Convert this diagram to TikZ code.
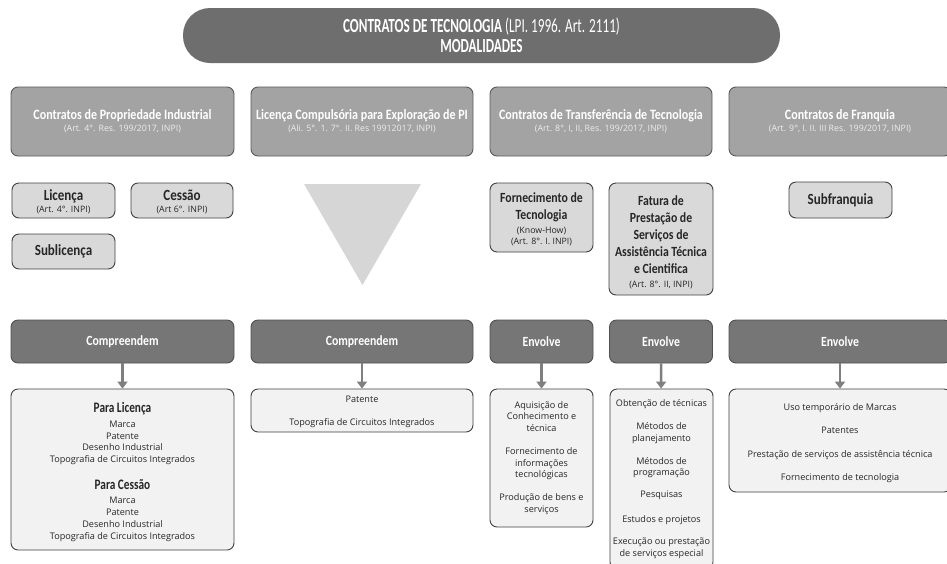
\documentclass[tikz,border=0pt]{standalone}
\usepackage{fontspec}
\setmainfont{Open Sans}
\newfontfamily\condf[FakeStretch=0.84]{Carlito}
\newfontfamily\paraf[FakeStretch=0.78]{Carlito}
\newfontfamily\titlef[FakeStretch=0.66]{Carlito}
\newfontfamily\smallf{Open Sans}
\usetikzlibrary{arrows.meta}
\newcommand{\tightls}{\lineskiplimit=-30pt\relax}
\definecolor{titlefill}{HTML}{6E6E6E}
\definecolor{hdrfill}{HTML}{A3A3A3}
\definecolor{hdredge}{HTML}{5A5A5A}
\definecolor{smallfill}{HTML}{D9D9D9}
\definecolor{edge}{HTML}{404040}
\definecolor{darkfill}{HTML}{767676}
\definecolor{darkedge}{HTML}{505050}
\definecolor{lightfill}{HTML}{F2F2F2}
\definecolor{arrowgray}{HTML}{7F7F7F}
\definecolor{trifill}{HTML}{D6D6D6}
\definecolor{textdark}{HTML}{262626}
\definecolor{subtxt}{HTML}{EDEDED}
\tikzset{
  base/.style={rounded corners=7pt, inner sep=0pt, align=center, line width=0.9pt},
  titlebox/.style={base, rounded corners=27pt, fill=titlefill, draw=none, text=white,
    font=\titlef\bfseries\fontsize{20}{20}\selectfont\tightls},
  hdrbox/.style={base, fill=hdrfill, draw=hdredge, text=white,
    font=\fontsize{8}{12}\selectfont\tightls},
  smallbox/.style={base, fill=smallfill, draw=edge, text=textdark,
    font=\fontsize{8}{12}\selectfont\tightls},
  tallbox/.style={base, fill=smallfill, draw=edge, text=textdark,
    font=\fontsize{8}{17}\selectfont\tightls},
  darkbox/.style={base, fill=darkfill, draw=darkedge, text=white,
    font=\condf\bfseries\fontsize{14}{16}\selectfont},
  lightbox/.style={base, fill=lightfill, draw=edge, text=textdark,
    font=\fontsize{9.1}{11.7}\selectfont\tightls},
  link/.style={draw=arrowgray, line width=2.4pt, -{Triangle[length=7pt,width=10pt]}},
}
\newcommand{\hd}[1]{{\condf\bfseries\fontsize{14.3}{14}\selectfont #1}}
\newcommand{\sbt}[1]{{\smallf\fontsize{8.8}{9}\selectfont #1}}
\newcommand{\sh}[1]{{\condf\bfseries\fontsize{15.5}{14}\selectfont #1}}
\newcommand{\bh}[1]{{\condf\bfseries\fontsize{14}{17}\selectfont #1}}
\newcommand{\ph}[1]{{\paraf\bfseries\fontsize{14.5}{14}\selectfont #1}}
\begin{document}
\begin{tikzpicture}[x=1pt,y=-1pt]
\clip (0,0) rectangle (947,563);
\fill[white] (0,0) rectangle (947,563);
% title
\node[titlebox, minimum width=597, minimum height=55] (title) at (481.5,35.5)
  {CONTRATOS DE TECNOLOGIA {\mdseries (LPI. 1996. Art. 2111)}\\MODALIDADES};
% header row
\node[hdrbox, minimum width=223, minimum height=69] (h1) at (122.5,121.5)
  {\hd{Contratos de Propriedade Industrial}\\\color{subtxt}\sbt{(Art. 4°. Res. 199/2017, INPI)}};
\node[hdrbox, minimum width=222, minimum height=69] (h2) at (362,121.5)
  {\hd{Licença Compulsória para Exploração de PI}\\\color{subtxt}\sbt{(Ali. 5°. 1. 7°. II. Res 19912017, INPI)}};
\node[hdrbox, minimum width=222, minimum height=69] (h3) at (601,121.5)
  {\hd{Contratos de Transferência de Tecnologia}\\\color{subtxt}\sbt{(Art. 8°, I, II, Res. 199/2017, INPI)}};
\node[hdrbox, minimum width=222, minimum height=69] (h4) at (840,121.5)
  {\hd{Contratos de Franquia}\\\color{subtxt}\sbt{(Art. 9°, I. II. III Res. 199/2017, INPI)}};
% second row
\node[smallbox, minimum width=103, minimum height=35] (lic) at (63.5,200.5)
  {\sh{\rule{0pt}{13pt}Licença}\\\sbt{(Art. 4°. INPI)}};
\node[smallbox, minimum width=102, minimum height=35] (ces) at (182,200.5)
  {\sh{\rule{0pt}{13pt}Cessão}\\\sbt{(Art 6°. INPI)}};
\node[smallbox, minimum width=103, minimum height=35] (sub) at (63.5,251.5)
  {\sh{Sublicença}};
\fill[trifill] (304,184) -- (421,184) -- (362.5,285) -- cycle;
\node[tallbox, minimum width=103, minimum height=69] (forn) at (541.5,217.5)
  {\bh{\rule{0pt}{14pt}Fornecimento de}\\\bh{Tecnologia}\\[-3pt]\sbt{(Know-How)}\\[-6pt]\sbt{(Art. 8°. I. INPI)}};
\node[tallbox, minimum width=104, minimum height=112] (fat) at (661,239)
  {\bh{\rule{0pt}{16pt}Fatura de}\\\bh{Prestação de}\\\bh{Serviços de}\\\bh{Assistência Técnica}\\\bh{e Cientifica}\\[-3pt]\sbt{(Art. 8°. II, INPI)}};
\node[smallbox, minimum width=103, minimum height=36] (subf) at (840.5,200)
  {\sh{Subfranquia}};
% third row
\node[darkbox, minimum width=223, minimum height=43] (c1) at (122.5,341.5) {Compreendem};
\node[darkbox, minimum width=222, minimum height=43] (c2) at (362,341.5) {Compreendem};
\node[darkbox, minimum width=103, minimum height=43] (e1) at (541.5,341.5) {Envolve};
\node[darkbox, minimum width=103, minimum height=43] (e2) at (661,341.5) {Envolve};
\node[darkbox, minimum width=222, minimum height=43] (e3) at (840,341.5) {Envolve};
% bottom row
\node[lightbox, minimum width=223, minimum height=161] (b1) at (122.5,469.5)
  {\ph{\rule{0pt}{15pt}Para Licença}\\[3pt]Marca\\Patente\\Desenho Industrial\\Topografia de Circuitos Integrados\\[15pt]
   \ph{Para Cessão}\\[3pt]Marca\\Patente\\Desenho Industrial\\Topografia de Circuitos Integrados};
\node[lightbox, minimum width=222, minimum height=43] (b2) at (362,410.5)
  {\rule{0pt}{9pt}Patente\\[10.5pt]Topografia de Circuitos Integrados};
\node[lightbox, minimum width=103, minimum height=138] (b3) at (541.5,458)
  {Aquisição de\\Conhecimento e\\técnica\\[11.3pt]Fornecimento de\\informações\\tecnológicas\\[11.3pt]Produção de bens e\\serviços};
\node[lightbox, minimum width=103, minimum height=180] (b4) at (661.5,479)
  {Obtenção de técnicas\\[11.3pt]Métodos de\\planejamento\\[11.3pt]Métodos de\\programação\\[10.3pt]Pesquisas\\[13.3pt]Estudos e projetos\\[10.3pt]Execução ou prestação\\de serviços especial};
\node[lightbox, minimum width=222, minimum height=103] (b5) at (840,440.5)
  {\rule{0pt}{12pt}Uso temporário de Marcas\\[11.6pt]Patentes\\[11.6pt]Prestação de serviços de assistência técnica\\[11.6pt]Fornecimento de tecnologia};
% arrows
\draw[link] (c1) -- (b1);
\draw[link] (c2) -- (b2);
\draw[link] (e1) -- (b3);
\draw[link] (e2) -- (b4);
\draw[link] (e3) -- (b5);
\end{tikzpicture}
\end{document}
